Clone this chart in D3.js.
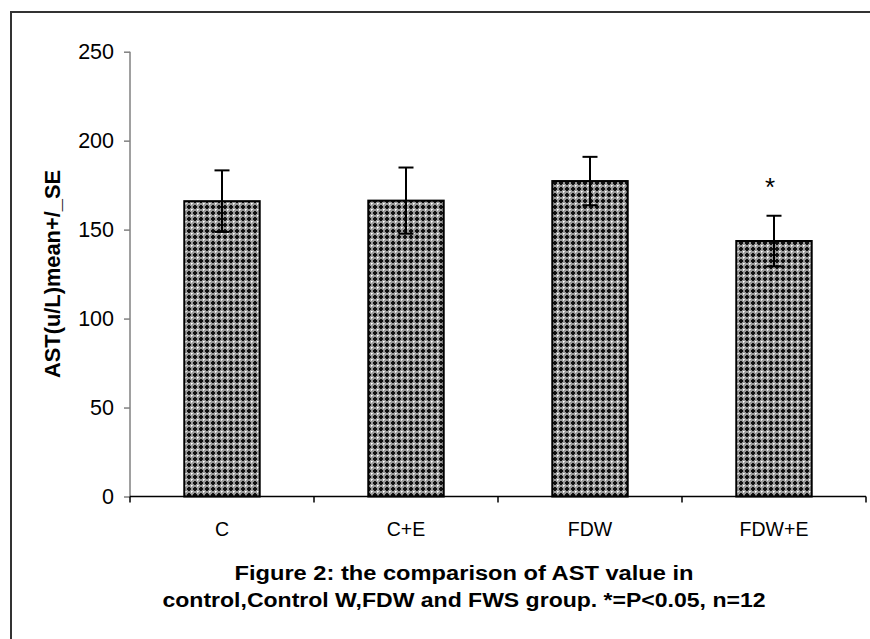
<!DOCTYPE html>
<html><head><meta charset="utf-8">
<script src="https://cdn.jsdelivr.net/npm/d3@7"></script>
<style>body{margin:0;background:#fff}svg{display:block}</style>
</head><body>
<svg id="chart" width="870" height="639"></svg>
<script>
const categories = ["C", "C+E", "FDW", "FDW+E"];
const means = [166, 166.3, 177.3, 143.6];
const se = [17.3, 18.6, 13.6, 14.2];
const significant = ["", "", "", "*"];
const yTicks = [0, 50, 100, 150, 200, 250];
const yLabel = "AST(u/L)mean+/_SE";
const caption = ["Figure 2: the comparison of AST value in",
                 "control,Control W,FDW and FWS group. *=P<0.05, n=12"];

const svg = d3.select("#chart");
const font = "'Liberation Sans', Arial, sans-serif";

// pattern
const defs = svg.append("defs");
const pat = defs.append("pattern").attr("id", "hatch").attr("patternUnits", "userSpaceOnUse")
  .attr("width", 6).attr("height", 6);
pat.append("rect").attr("width", 6).attr("height", 6).attr("fill", "#9a9a9a");
pat.append("rect").attr("x", 2).attr("y", 1).attr("width", 2).attr("height", 4).attr("fill", "#111");
pat.append("rect").attr("x", 1).attr("y", 2).attr("width", 4).attr("height", 2).attr("fill", "#111");
pat.append("rect").attr("x", 5).attr("y", 5).attr("width", 1).attr("height", 1).attr("fill", "#fff");
pat.append("rect").attr("x", 0).attr("y", 5).attr("width", 1).attr("height", 1).attr("fill", "#e0e0e0");
pat.append("rect").attr("x", 5).attr("y", 0).attr("width", 1).attr("height", 1).attr("fill", "#e0e0e0");

// outer frame
svg.append("path").attr("d", "M11,650 V12 H880").attr("fill", "none")
  .attr("stroke", "#333").attr("stroke-width", 2);

const x0 = 130, x1 = 866, yBottom = 496.5, yTop = 51.7;
const y = d3.scaleLinear().domain([0, 250]).range([yBottom, yTop]);
const xb = d3.scaleBand().domain(categories).range([x0, x1]).paddingInner(0.59).paddingOuter(0.295);
const xs = d3.scaleBand().domain(categories).range([x0, x1]).padding(0);

// y axis
const yAxis = svg.append("g").attr("transform", `translate(${x0},0)`)
  .call(d3.axisLeft(y).tickValues(yTicks).tickSize(6).tickPadding(10));
yAxis.attr("font-size", null).attr("font-family", null);
yAxis.select(".domain").attr("stroke", "#808080").attr("stroke-width", 1.5)
  .attr("d", `M0,${yBottom}V${yTop}`);
yAxis.selectAll(".tick line").attr("stroke", "#808080").attr("stroke-width", 1.5);
yAxis.selectAll(".tick text").style("font-family", font).style("font-size", "21.5px").attr("fill", "#000");

// bars
svg.append("g").selectAll("rect").data(categories).join("rect")
  .attr("x", d => xb(d)).attr("width", xb.bandwidth())
  .attr("y", (d, i) => y(means[i])).attr("height", (d, i) => yBottom - y(means[i]))
  .attr("fill", "url(#hatch)").attr("stroke", "#000").attr("stroke-width", 2);

// error bars
const eb = svg.append("g").attr("stroke", "#000").attr("stroke-width", 2);
categories.forEach((c, i) => {
  const cx = xb(c) + xb.bandwidth() / 2;
  eb.append("line").attr("x1", cx).attr("x2", cx).attr("y1", y(means[i] - se[i])).attr("y2", y(means[i] + se[i]));
  eb.append("line").attr("x1", cx - 7.5).attr("x2", cx + 7.5).attr("y1", y(means[i] + se[i])).attr("y2", y(means[i] + se[i]));
  eb.append("line").attr("x1", cx - 7.5).attr("x2", cx + 7.5).attr("y1", y(means[i] - se[i])).attr("y2", y(means[i] - se[i]));
  if (significant[i]) {
    svg.append("text").attr("x", cx - 4).attr("y", y(means[i] + se[i]) - 20)
      .attr("text-anchor", "middle").style("font-family", font).style("font-size", "26px").text(significant[i]);
  }
});

// x axis
svg.append("line").attr("x1", x0).attr("x2", x1).attr("y1", yBottom).attr("y2", yBottom)
  .attr("stroke", "#000").attr("stroke-width", 1.5);
const bounds = categories.map(c => xs(c)).concat([x1]);
svg.append("g").selectAll("line").data(bounds).join("line")
  .attr("x1", d => d).attr("x2", d => d).attr("y1", yBottom).attr("y2", yBottom + 6)
  .attr("stroke", "#000").attr("stroke-width", 1.5);
svg.append("g").selectAll("text").data(categories).join("text")
  .attr("x", d => xs(d) + xs.bandwidth() / 2).attr("y", 536)
  .attr("text-anchor", "middle").style("font-family", font).style("font-size", "19.5px").text(d => d);

// y label
svg.append("text").attr("transform", "translate(60,274) rotate(-90)")
  .attr("text-anchor", "middle").style("font-family", font).style("font-size", "22px")
  .attr("font-weight", "bold").attr("textLength", 208).attr("lengthAdjust", "spacingAndGlyphs").text(yLabel);

// caption
const capW = [459, 603];
caption.forEach((t, i) => {
  svg.append("text").attr("x", 464).attr("y", 580 + i * 27).attr("text-anchor", "middle")
    .style("font-family", font).style("font-size", "20px").attr("font-weight", "bold")
    .attr("textLength", capW[i]).attr("lengthAdjust", "spacingAndGlyphs").text(t);
});
</script>
</body></html>
